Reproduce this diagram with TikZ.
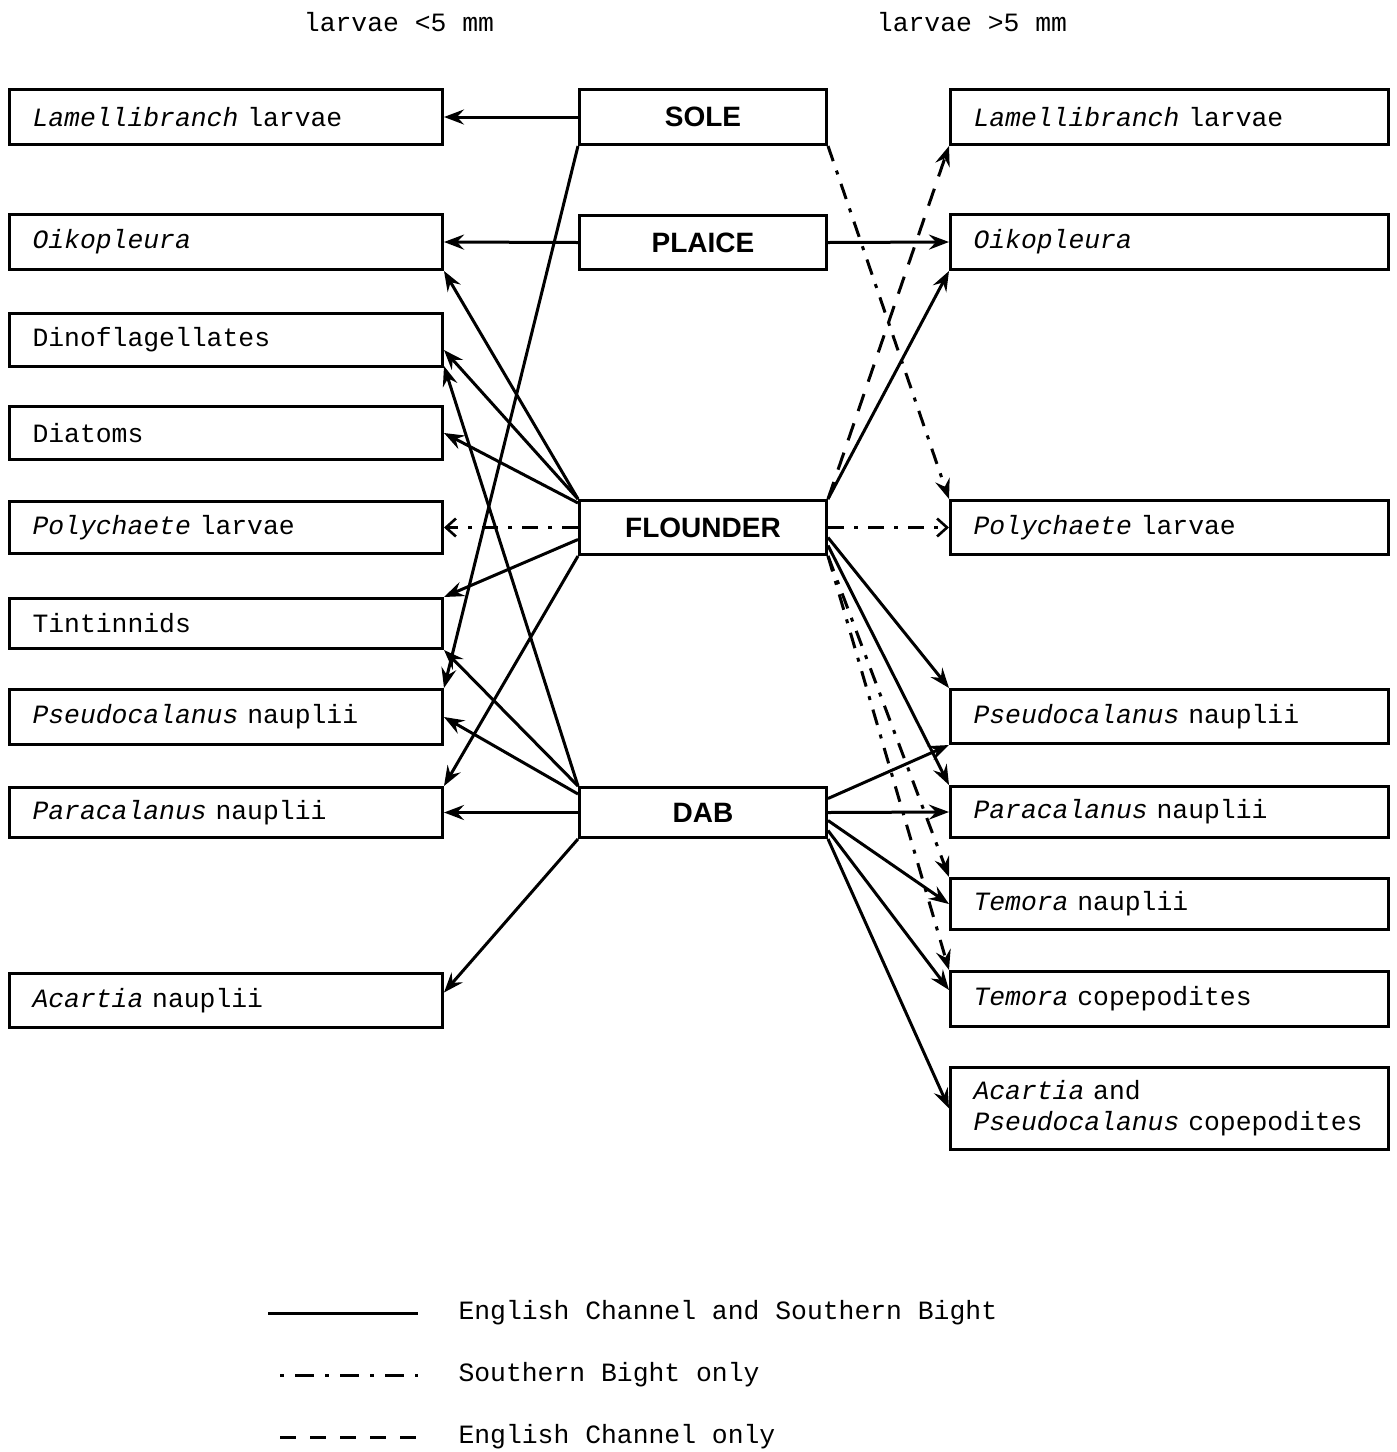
\documentclass[tikz,border=0pt]{standalone}
\usepackage{fontspec}
\usetikzlibrary{arrows.meta}
\newfontfamily\monofnt{Liberation Mono}
\newfontfamily\fishfnt{Liberation Sans}
\tikzset{
  prey/.style={draw, line width=3pt, rectangle, anchor=north west, inner xsep=23pt, inner ysep=0pt,
    align=left, font=\monofnt\fontsize{26.4}{31}\selectfont},
  lft/.style={prey, text width=387pt},
  rgt/.style={prey, text width=392pt},
  fishbox/.style={draw, line width=3pt, rectangle, anchor=north west, minimum width=247pt, inner sep=0pt,
    font=\fishfnt\bfseries\fontsize{28}{32}\selectfont},
  plain/.style={font=\monofnt\fontsize{26.4}{31}\selectfont},
  arr/.style={line width=3pt, -{Stealth[length=20pt,width=15pt,inset=7pt]}},
  sbline/.style={line width=3pt, dash pattern=on 16pt off 10pt on 4pt off 10pt},
  sb/.style={arr, sbline},
  sbopen/.style={sbline, -{Straight Barb[length=10pt,width=18pt,line width=2.6pt]}},
  ecline/.style={line width=3pt, dash pattern=on 18pt off 13pt},
  ec/.style={arr, ecline},
}
\begin{document}
\begin{tikzpicture}[x=1pt,y=-1pt]
\useasboundingbox (0,0) rectangle (1397,1452);

% headers
\node[plain] (hL) at (399,22) {larvae <5 mm};
\node[plain] (hR) at (972,22) {larvae >5 mm};

% left prey boxes
\node[lft, minimum height=55pt] (L1) at (8,88) {\textit{Lamellibranch} larvae};
\node[lft, minimum height=55pt] (L2) at (8,213) {\textit{Oikopleura}};
\node[lft, minimum height=53pt] (L3) at (8,312) {Dinoflagellates};
\node[lft, minimum height=53pt] (L4) at (8,405) {Diatoms};
\node[lft, minimum height=52pt] (L5) at (8,500) {\textit{Polychaete} larvae};
\node[lft, minimum height=50pt] (L6) at (8,597) {Tintinnids};
\node[lft, minimum height=55pt] (L7) at (8,688) {\textit{Pseudocalanus} nauplii};
\node[lft, minimum height=50pt] (L8) at (8,786) {\textit{Paracalanus} nauplii};
\node[lft, minimum height=54pt] (L9) at (8,972) {\textit{Acartia} nauplii};

% fish boxes
\node[fishbox, minimum height=55pt] (SOLE) at (578,88) {SOLE};
\node[fishbox, minimum height=54pt] (PLAICE) at (578,214) {PLAICE};
\node[fishbox, minimum height=54pt] (FLOUNDER) at (578,499) {FLOUNDER};
\node[fishbox, minimum height=50pt] (DAB) at (578,786) {DAB};

% right prey boxes
\node[rgt, minimum height=55pt] (R1) at (949,88) {\textit{Lamellibranch} larvae};
\node[rgt, minimum height=55pt] (R2) at (949,213) {\textit{Oikopleura}};
\node[rgt, minimum height=54pt] (R3) at (949,499) {\textit{Polychaete} larvae};
\node[rgt, minimum height=54pt] (R4) at (949,688) {\textit{Pseudocalanus} nauplii};
\node[rgt, minimum height=51pt] (R5) at (949,785) {\textit{Paracalanus} nauplii};
\node[rgt, minimum height=51pt] (R6) at (949,877) {\textit{Temora} nauplii};
\node[rgt, minimum height=55pt] (R7) at (949,970) {\textit{Temora} copepodites};
\node[rgt, minimum height=82pt] (R8) at (949,1066) {\textit{Acartia} and\\\textit{Pseudocalanus} copepodites};

% left connectors
\draw[arr] (SOLE.west) -- (L1.east);
\draw[arr] (PLAICE.west) -- (L2.east);
\draw[arr] (FLOUNDER.north west) -- (L2.south east);
\draw[arr] (FLOUNDER.north west) -- ([yshift=-10pt]L3.east);
\draw[arr] (DAB.north west) -- ([yshift=2pt]L3.south east);
\draw[arr] ([yshift=-4pt]FLOUNDER.north west) -- (L4.east);
\draw[sbopen] (FLOUNDER.west) -- (L5.east);
\draw[arr] ([yshift=-12pt]FLOUNDER.west) -- (L6.north east);
\draw[arr] (SOLE.south west) -- (L7.north east);
\draw[arr] (DAB.north west) -- (L6.south east);
\draw[arr] ([yshift=-8pt]DAB.north west) -- (L7.east);
\draw[arr] (FLOUNDER.south west) -- (L8.north east);
\draw[arr] (DAB.west) -- (L8.east);
\draw[arr] (DAB.south west) -- ([yshift=8pt]L9.east);

% right connectors
\draw[arr] (PLAICE.east) -- (R2.west);
\draw[sb] (SOLE.south east) -- (R3.north west);
\draw[ec] (FLOUNDER.north east) -- (R1.south west);
\draw[arr] (FLOUNDER.north east) -- (R2.south west);
\draw[sbopen] (FLOUNDER.east) -- (R3.west);
\draw[arr] ([yshift=-10pt]FLOUNDER.east) -- (R4.north west);
\draw[arr] ([yshift=-18pt]FLOUNDER.east) -- (R5.north west);
\draw[sb] (FLOUNDER.south east) -- (R6.north west);
\draw[sb] (FLOUNDER.south east) -- (R7.north west);
\draw[arr] ([yshift=14pt]DAB.east) -- (R4.south west);
\draw[arr] (DAB.east) -- (R5.west);
\draw[arr] ([yshift=-8pt]DAB.east) -- (R6.west);
\draw[arr] ([yshift=-18pt]DAB.east) -- ([yshift=-20pt]R7.north west);
\draw[arr] (DAB.south east) -- (R8.west);

% legend
\coordinate (la1) at (268,1313); \coordinate (lb1) at (418,1313);
\coordinate (la2) at (280,1375); \coordinate (lb2) at (418,1375);
\coordinate (la3) at (280,1437); \coordinate (lb3) at (418,1437);
\draw[line width=3pt] (la1) -- (lb1);
\draw[line width=3pt, dash pattern=on 4pt off 11pt on 19pt off 11pt] (la2) -- (lb2);
\draw[line width=3pt, dash pattern=on 16pt off 14pt] (la3) -- (lb3);
\node[plain, anchor=west] (t1) at (455,1313) {English Channel and Southern Bight};
\node[plain, anchor=west] (t2) at (455,1375) {Southern Bight only};
\node[plain, anchor=west] (t3) at (455,1437) {English Channel only};
\end{tikzpicture}
\end{document}
